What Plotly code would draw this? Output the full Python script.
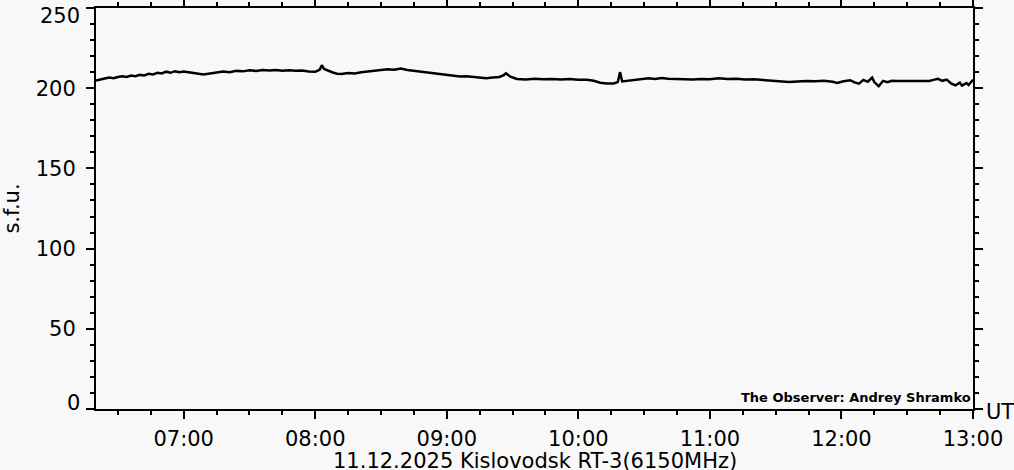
"""
Kislovodsk RT-3 6150MHz flux chart
"""
import plotly.graph_objects as go

DAY = '2025-12-11'

times = [
    '06:20', '06:22', '06:24', '06:26', '06:28', '06:30', '06:32', '06:34', '06:36', '06:38',
    '06:40', '06:42', '06:44', '06:46', '06:48', '06:50', '06:52', '06:54', '06:56', '06:58',
    '07:00', '07:03', '07:06', '07:09', '07:12', '07:15', '07:18', '07:21', '07:24', '07:27',
    '07:30', '07:33', '07:36', '07:39', '07:42', '07:45', '07:48', '07:51', '07:54', '07:57',
    '08:00', '08:02', '08:03', '08:04', '08:06', '08:08', '08:10', '08:12', '08:15', '08:18',
    '08:21', '08:24', '08:27', '08:30', '08:33', '08:36', '08:39', '08:42', '08:45', '08:48',
    '08:51', '08:54', '08:57', '09:00', '09:03', '09:06', '09:09', '09:12', '09:15', '09:18',
    '09:21', '09:24', '09:26', '09:27', '09:29', '09:32', '09:36', '09:40', '09:44', '09:48',
    '09:52', '09:56', '10:00', '10:04', '10:07', '10:10', '10:13', '10:16', '10:18', '10:19',
    '10:20', '10:23', '10:26', '10:29', '10:32', '10:35', '10:38', '10:41', '10:44', '10:48',
    '10:52', '10:56', '11:00', '11:04', '11:08', '11:12', '11:16', '11:20', '11:24', '11:28',
    '11:32', '11:36', '11:40', '11:44', '11:48', '11:52', '11:56', '11:58', '12:01', '12:04',
    '12:06', '12:08', '12:10', '12:12', '12:14', '12:15', '12:17', '12:19', '12:21', '12:23',
    '12:25', '12:40', '12:42', '12:44', '12:46', '12:48', '12:50', '12:52', '12:54', '12:55',
    '12:57', '12:58', '13:00',
]

flux = [
    204.8, 205.6, 206.0, 206.6, 206.2, 207.0, 207.4, 207.0, 207.9, 207.5,
    208.3, 208.0, 209.0, 208.6, 209.6, 209.2, 210.3, 209.6, 210.6, 210.0,
    210.4, 209.8, 209.2, 208.6, 209.2, 209.8, 210.4, 210.0, 210.8, 210.5,
    211.2, 210.8, 211.4, 211.0, 211.3, 210.9, 211.2, 210.9, 211.0, 210.4,
    210.2, 211.5, 214.3, 212.0, 210.8, 209.8, 209.0, 208.8, 209.4, 209.2,
    210.0, 210.4, 211.0, 211.4, 211.8, 211.5, 212.2, 211.4, 210.9, 210.4,
    209.8, 209.3, 208.6, 208.0, 207.8, 207.3, 207.4, 206.9, 206.6, 206.2,
    206.6, 207.0, 208.2, 209.3, 207.2, 205.8, 205.5, 205.9, 205.6, 205.8,
    205.4, 205.7, 205.3, 205.2, 204.6, 203.4, 203.0, 202.9, 203.8, 210.0,
    204.2, 204.8, 205.0, 205.8, 206.2, 205.8, 206.3, 205.9, 205.7, 205.9,
    205.5, 205.8, 205.6, 206.2, 205.7, 205.9, 205.5, 205.6, 205.2, 204.8,
    204.2, 203.8, 204.2, 204.5, 204.3, 204.6, 204.0, 203.2, 204.3, 205.0,
    203.6, 202.8, 205.2, 204.0, 206.6, 203.8, 201.2, 204.6, 203.8, 204.6,
    204.5, 204.5, 205.2, 205.8, 204.6, 205.4, 203.0, 201.8, 203.4, 201.6,
    203.2, 202.0, 205.2,
]

y_ticks = [0, 50, 100, 150, 200, 250]
font = 'DejaVu Sans'
tick_font = dict(family=font, size=21, color='black')

fig = go.Figure()

fig.add_trace(go.Scatter(
    x=[f'{DAY} {t}' for t in times],
    y=flux,
    mode='lines',
    line=dict(color='black', width=2.5),
    showlegend=False
))

# 轴样式
axis_common = dict(
    showline=True,
    linecolor='black',
    linewidth=2,
    mirror='allticks',
    ticks='outside',
    ticklen=8,
    tickwidth=2,
    tickcolor='black',
    showgrid=False,
    zeroline=False,
    automargin=False,
    ticklabeloverflow='allow',
    tickfont=tick_font,
)

fig.update_xaxes(
    type='date',
    range=[f'{DAY} 06:20', f'{DAY} 13:00'],
    tick0=f'{DAY} 07:00',
    dtick=3600000,
    tickformat='%H:%M',
    minor=dict(ticks='outside', ticklen=4, tickwidth=2, tickcolor='black',
               dtick=900000, tick0=f'{DAY} 07:00', showgrid=False),
    ticklabelstandoff=2,
    **axis_common
)

# 端点标签（0 和 250）单独放在轴内侧对齐，其余用普通刻度标签
inner_labels = [str(v) if 0 < v < 250 else '' for v in y_ticks]
fig.update_yaxes(
    range=[0, 250],
    tickvals=y_ticks,
    ticktext=inner_labels,
    minor=dict(ticks='outside', ticklen=4, tickwidth=2, tickcolor='black',
               dtick=10, tick0=0, showgrid=False),
    title=dict(text='s.f.u.', font=tick_font, standoff=12),
    ticklabelstandoff=6,
    **axis_common
)

for v, shift in [(y_ticks[0], 6), (y_ticks[-1], -8)]:
    fig.add_annotation(
        text=str(v), xref='paper', yref='y', x=-15 / 877, y=v,
        xanchor='right', yanchor='middle', yshift=shift, showarrow=False,
        borderpad=0, font=tick_font
    )

fig.add_annotation(
    text='11.12.2025 Kislovodsk RT-3(6150MHz)',
    xref='paper', yref='paper', x=0.5, y=-66 / 401,
    xanchor='center', yanchor='bottom', showarrow=False,
    font=tick_font
)
fig.add_annotation(
    text='UT',
    xref='paper', yref='paper', x=(1016 - 96) / 877, y=-3 / 401,
    xanchor='right', yanchor='middle', showarrow=False,
    font=tick_font
)
fig.add_annotation(
    text='<b>The Observer: Andrey Shramko</b>',
    xref='paper', yref='paper', x=1.0, y=0.005,
    xanchor='right', yanchor='bottom', showarrow=False,
    font=dict(family=font, size=13, color='black')
)

fig.update_layout(
    width=1014,
    height=470,
    margin=dict(l=96, r=41, t=8, b=61, autoexpand=False),
    paper_bgcolor='#f8f8f8',
    plot_bgcolor='#f8f8f8',
)

# 去掉页面默认的 body 边距
fig.write_html('out.html', config={'displayModeBar': False},
               post_script="document.body.style.margin='0';")
